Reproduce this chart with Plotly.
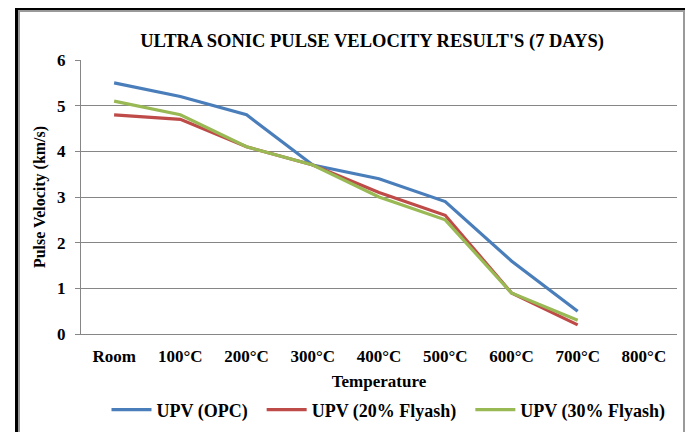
import plotly.graph_objects as go

categories = ["Room", "100°C", "200°C", "300°C", "400°C", "500°C", "600°C", "700°C", "800°C"]
upv_opc = [5.5, 5.2, 4.8, 3.7, 3.4, 2.9, 1.6, 0.5, None]
upv_20 = [4.8, 4.7, 4.1, 3.7, 3.1, 2.6, 0.9, 0.2, None]
upv_30 = [5.1, 4.8, 4.1, 3.7, 3.0, 2.5, 0.9, 0.3, None]
series_names = ["UPV (OPC)", "UPV (20% Flyash)", "UPV (30% Flyash)"]
colors = ["#4A7EBB", "#BE4B48", "#98B954"]

FONT = "Liberation Serif"
OFF = 8  # page body margin
FW, FH = 693 - OFF, 432 - OFF

fig = go.Figure()
for name, vals, c in zip(series_names, [upv_opc, upv_20, upv_30], colors):
    fig.add_trace(go.Scatter(x=categories, y=vals, name="<b>" + name + "</b>&nbsp;&nbsp;", mode="lines",
                             line=dict(color=c, width=3.2), connectgaps=False))

# plot area in page pixels: x 81..677, y 60..334
L, R, T, B = 81, 677, 60, 334
W, H = R - L, B - T

def px(x):
    return (x - L) / W

def py(y):
    return (B - y) / H

shapes = []
def rect(x0, y0, x1, y1, color):
    shapes.append(dict(type="rect", xref="paper", yref="paper",
                       x0=px(x0), x1=px(x1), y0=py(y0), y1=py(y1),
                       fillcolor=color, line=dict(width=0), layer="above"))

# gray inner frame
rect(18, 10, 20, 445, "#9a9a9a")
rect(18, 10, 685, 12, "#9a9a9a")
rect(683, 10, 685, 445, "#9a9a9a")
# black outer frame
rect(15, 0, 18, 445, "#000000")
rect(15, 0, 692, 10, "#000000")
rect(685, 0, 692, 445, "#000000")

fig.update_layout(
    width=FW, height=FH,
    margin=dict(l=L - OFF, r=FW - (R - OFF), t=T - OFF, b=FH - (B - OFF), autoexpand=False),
    paper_bgcolor="white", plot_bgcolor="white",
    font=dict(family=FONT, size=17, color="black"),
    title=dict(text="<b>ULTRA SONIC PULSE VELOCITY RESULT'S (7 DAYS)</b>",
               xref="container", yref="container",
               x=(372 - OFF) / FW, xanchor="center", y=1 - (41 - OFF) / FH, yanchor="middle",
               font=dict(family=FONT, size=18.5, color="black")),
    showlegend=True,
    legend=dict(orientation="h", x=px(393), xanchor="center", y=py(410), yanchor="middle",
                font=dict(family=FONT, size=18, color="black"),
                itemwidth=40, tracegroupgap=0, bgcolor="rgba(0,0,0,0)"),
    shapes=shapes,
)

fig.update_xaxes(
    type="category", categoryorder="array", categoryarray=categories,
    range=[-0.5, 8.5], automargin=False,
    showline=True, linecolor="#868686", linewidth=1,
    showgrid=False, ticks="", zeroline=False,
    ticklabelstandoff=7,
    tickfont=dict(family=FONT, size=17, color="black"),
    tickvals=categories, ticktext=["<b>" + c + "</b>" for c in categories],
    title=dict(text="<b>Temperature</b>", font=dict(family=FONT, size=17, color="black"), standoff=9),
)
fig.update_yaxes(
    range=[0, 6], dtick=1, automargin=False,
    showline=True, linecolor="#868686", linewidth=1,
    showgrid=True, gridcolor="#868686", gridwidth=1,
    ticks="outside", ticklen=5, tickcolor="#868686",
    ticklabelstandoff=6,
    zeroline=False,
    tickfont=dict(family=FONT, size=17, color="black"),
    tickvals=[0, 1, 2, 3, 4, 5, 6], ticktext=["<b>%d</b>" % v for v in range(7)],
    title=dict(text="<b>Pulse Velocity (km/s)</b>", font=dict(family=FONT, size=16, color="black"), standoff=7),
)

fig.write_html("out.html")
